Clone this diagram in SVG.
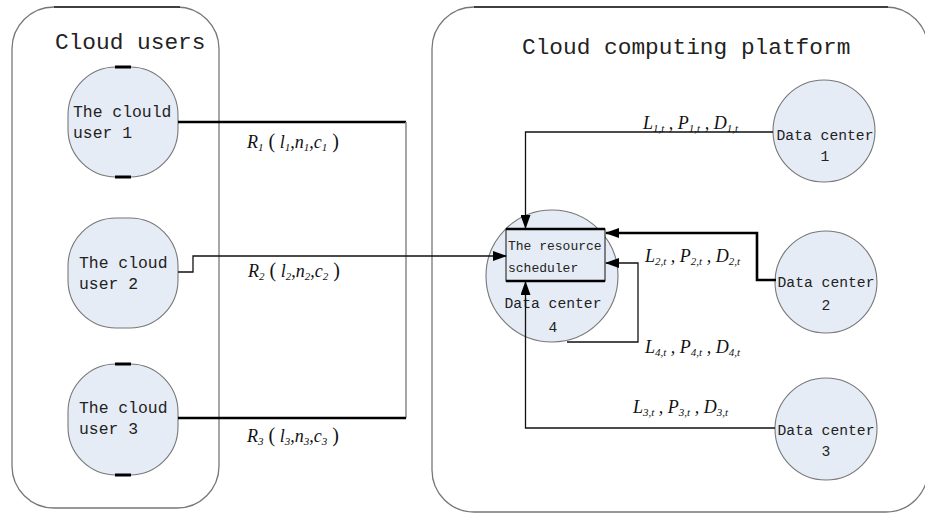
<svg xmlns="http://www.w3.org/2000/svg" width="925" height="514" viewBox="0 0 925 514">
<defs>
<style>
.bg{fill:#fff}
.cont{fill:none;stroke:#777;stroke-width:1.3}
.ctop{stroke:#222;stroke-width:1.5}
.node{fill:#e6ecf6;stroke:#777;stroke-width:1.1}
.mark{stroke:#000;stroke-width:3}
.title{font-family:"Liberation Mono",monospace;font-size:22.8px;fill:#222}
.ut{font-family:"Liberation Mono",monospace;font-size:16.4px;fill:#222}
.dt{font-family:"Liberation Mono",monospace;font-size:14.7px;fill:#222;text-anchor:middle}
.st{font-family:"Liberation Mono",monospace;font-size:13px;fill:#222}
.m{font-family:"Liberation Serif",serif;font-style:italic;font-size:18px;fill:#111}
.s{font-size:11px}
.p{font-style:normal;font-size:20px}
.thin{fill:none;stroke:#111;stroke-width:1.3}
.thick{fill:none;stroke:#000;stroke-width:2.6}
.gray{fill:none;stroke:#888;stroke-width:1.5}
</style>
<marker id="arr" markerWidth="14" markerHeight="10" refX="13" refY="5" orient="auto" markerUnits="userSpaceOnUse"><path d="M0,0 L14,5 L0,10 z" fill="#000"/></marker>
</defs>
<rect class="bg" x="0" y="0" width="925" height="514"/>

<g id="cloud-users">
<rect class="cont" x="12" y="7" width="207" height="501" rx="42"/>
<line class="ctop" x1="54" y1="7" x2="180" y2="7"/>
<text class="title" x="55" y="49">Cloud users</text>
</g>

<g id="cloud-platform">
<rect class="cont" x="432" y="7" width="496" height="505" rx="42"/>
<line class="ctop" x1="474" y1="7" x2="888" y2="7"/>
<text class="title" x="522" y="54">Cloud computing platform</text>
</g>

<g id="user1">
<rect class="node" x="68" y="67" width="110" height="110" rx="48"/>
<line class="mark" x1="115" y1="67" x2="131" y2="67"/>
<line class="mark" x1="115" y1="177" x2="131" y2="177"/>
<text class="ut" x="73" y="117">The clould</text>
<text class="ut" x="73" y="138">user 1</text>
</g>

<g id="user2">
<rect class="node" x="68" y="218" width="110" height="110" rx="48"/>
<text class="ut" x="79" y="268">The cloud</text>
<text class="ut" x="79" y="289">user 2</text>
</g>

<g id="user3">
<rect class="node" x="68" y="364" width="110" height="111" rx="48"/>
<line class="mark" x1="115" y1="364" x2="131" y2="364"/>
<line class="mark" x1="115" y1="475" x2="131" y2="475"/>
<text class="ut" x="79" y="413">The cloud</text>
<text class="ut" x="79" y="434">user 3</text>
</g>

<g id="dc1">
<circle class="node" cx="824" cy="131" r="51"/>
<text class="dt" x="825" y="140">Data center</text>
<text class="dt" x="825" y="161">1</text>
</g>

<g id="dc2">
<circle class="node" cx="826" cy="282" r="51"/>
<text class="dt" x="826" y="287">Data center</text>
<text class="dt" x="826" y="310">2</text>
</g>

<g id="dc3">
<circle class="node" cx="826" cy="429" r="51"/>
<text class="dt" x="826" y="435">Data center</text>
<text class="dt" x="826" y="456">3</text>
</g>

<g id="dc4">
<circle class="node" cx="552" cy="276" r="66"/>
<text class="dt" x="553" y="308">Data center</text>
<text class="dt" x="553" y="332">4</text>
</g>

<g id="scheduler">
<rect x="506" y="229" width="99" height="52" fill="#e6ecf6" stroke="#111" stroke-width="1"/>
<line x1="506" y1="229" x2="605" y2="229" stroke="#000" stroke-width="2.6"/>
<line x1="506" y1="281" x2="605" y2="281" stroke="#000" stroke-width="2.6"/>
<text class="st" x="508" y="250">The resource</text>
<text class="st" x="508" y="272">scheduler</text>
</g>

<g id="connectors">
<line class="thick" x1="178" y1="122" x2="406" y2="122"/>
<line class="gray" x1="406" y1="122" x2="406" y2="418"/>
<line class="thick" x1="178" y1="418" x2="406" y2="418"/>
<polyline class="thin" points="178,272 193,272 193,256 506,256" marker-end="url(#arr)"/>
<polyline class="thin" points="773,132 525.5,132 525.5,228" marker-end="url(#arr)"/>
<polyline class="thick" points="776,280 757,280 757,233 606,233" marker-end="url(#arr)"/>
<polyline class="thin" points="567,342 638,342 638,263 606,263" marker-end="url(#arr)"/>
<polyline class="thin" points="775,428 525.5,428 525.5,282" marker-end="url(#arr)"/>
</g>

<g id="labels">
<text class="m" x="247" y="148">R<tspan class="s" dy="3">1</tspan><tspan class="p" dy="-3"> (</tspan> l<tspan class="s" dy="3">1</tspan><tspan dy="-3">,</tspan>n<tspan class="s" dy="3">1</tspan><tspan dy="-3">,</tspan>c<tspan class="s" dy="3">1</tspan><tspan class="p" dy="-3"> )</tspan></text>
<text class="m" x="248" y="277">R<tspan class="s" dy="3">2</tspan><tspan class="p" dy="-3"> (</tspan> l<tspan class="s" dy="3">2</tspan><tspan dy="-3">,</tspan>n<tspan class="s" dy="3">2</tspan><tspan dy="-3">,</tspan>c<tspan class="s" dy="3">2</tspan><tspan class="p" dy="-3"> )</tspan></text>
<text class="m" x="247" y="442">R<tspan class="s" dy="3">3</tspan><tspan class="p" dy="-3"> (</tspan> l<tspan class="s" dy="3">3</tspan><tspan dy="-3">,</tspan>n<tspan class="s" dy="3">3</tspan><tspan dy="-3">,</tspan>c<tspan class="s" dy="3">3</tspan><tspan class="p" dy="-3"> )</tspan></text>
<text class="m" x="643" y="129">L<tspan class="s" dy="3">1,t</tspan><tspan dy="-3"> , P</tspan><tspan class="s" dy="3">1,t</tspan><tspan dy="-3"> , D</tspan><tspan class="s" dy="3">1,t</tspan></text>
<text class="m" x="645" y="262">L<tspan class="s" dy="3">2,t</tspan><tspan dy="-3"> , P</tspan><tspan class="s" dy="3">2,t</tspan><tspan dy="-3"> , D</tspan><tspan class="s" dy="3">2,t</tspan></text>
<text class="m" x="645" y="353">L<tspan class="s" dy="3">4,t</tspan><tspan dy="-3"> , P</tspan><tspan class="s" dy="3">4,t</tspan><tspan dy="-3"> , D</tspan><tspan class="s" dy="3">4,t</tspan></text>
<text class="m" x="633" y="413">L<tspan class="s" dy="3">3,t</tspan><tspan dy="-3"> , P</tspan><tspan class="s" dy="3">3,t</tspan><tspan dy="-3"> , D</tspan><tspan class="s" dy="3">3,t</tspan></text>
</g>
</svg>
